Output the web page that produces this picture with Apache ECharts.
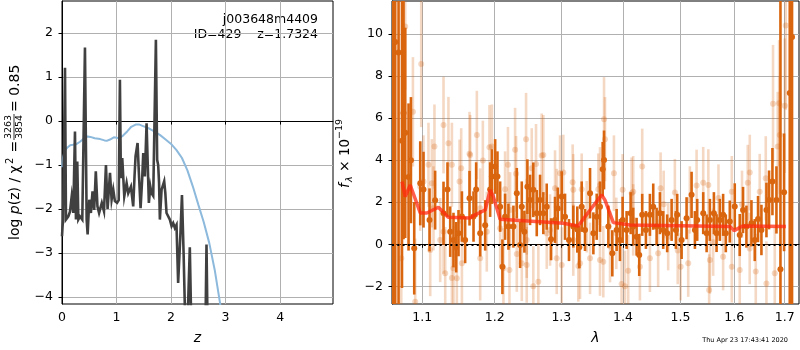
<!DOCTYPE html>
<html>
<head>
<meta charset="utf-8">
<script src="https://cdn.jsdelivr.net/npm/echarts@6.0.0/dist/echarts.min.js"></script>
<style>
  html, body { margin: 0; padding: 0; background: #fff; }
  #chart { width: 800px; height: 350px; }
</style>
</head>
<body>
<div id="chart"></div>
<script>
// ---- left panel: log p(z) ----
const pzZ = [0.00, 0.01, 0.02, 0.055, 0.073, 0.116, 0.146, 0.177, 0.207, 0.238, 0.256, 0.28, 0.30, 0.33, 0.372,
  0.421, 0.452, 0.47, 0.50, 0.53, 0.56, 0.59, 0.62, 0.65, 0.68, 0.73, 0.77, 0.806, 0.836, 0.88, 0.91, 0.94, 0.97,
  1.01, 1.04, 1.062, 1.08, 1.105, 1.142, 1.185, 1.215, 1.24, 1.264, 1.306, 1.33, 1.349, 1.386, 1.41, 1.441, 1.47,
  1.49, 1.52, 1.551, 1.57, 1.593, 1.62, 1.642, 1.673, 1.722, 1.745, 1.764, 1.78, 1.795, 1.826, 1.874, 1.895, 1.917,
  1.978, 2.01, 2.039, 2.07, 2.10, 2.13, 2.17, 2.20, 2.23, 2.26, 2.30, 2.344, 2.37, 2.45, 2.55, 2.63, 2.65, 2.67,
  2.75, 2.9, 3.1];
const pzLog = [-2.62, -2.4, -2.24, 1.21, -2.24, -2.17, -2.06, -1.72, -2.09, -0.24, -2.24, -0.92, -2.24, -2.17, -2.24,
  1.67, -2.24, -2.58, -1.79, -2.09, -1.6, -2.02, -1.14, -1.94, -2.09, -1.86, -2.05, -1.0, -2.0, -1.18, -1.79, -1.56, -1.82,
  -1.86, -1.8, 0.94, -1.3, -0.84, -1.71, -1.41, -1.64, -1.6, -1.49, -1.94, -1.26, -0.8, -0.5, -1.18, -1.98, -1.33,
  -0.73, -1.26, -0.05, -0.88, -1.86, -1.49, -1.64, -1.7, 1.85, -0.88, -1.0, -1.4, -2.24, -1.56, -1.37, -1.64, -2.09,
  -2.24, -2.39, -2.32, -2.43, -2.36, -3.68, -2.62, -1.68, -3.0, -4.6, -4.7, -2.87, -4.6, -4.9, -5.2, -4.8, -2.81, -4.7,
  -5.5, -6.5, -7.5];

const fitZ = [0.00, 0.02, 0.05, 0.10, 0.15, 0.20, 0.27, 0.33, 0.40, 0.47, 0.52, 0.60, 0.70, 0.78, 0.82, 0.88, 0.95,
  1.05, 1.12, 1.20, 1.27, 1.35, 1.42, 1.50, 1.60, 1.70, 1.80, 1.90, 2.00, 2.10, 2.20, 2.30, 2.40, 2.50, 2.60, 2.70,
  2.80, 2.90, 3.00, 3.10];
const fitLog = [-1.05, -0.82, -0.68, -0.6, -0.55, -0.54, -0.52, -0.47, -0.4, -0.35, -0.36, -0.39, -0.41, -0.44, -0.45,
  -0.42, -0.37, -0.39, -0.33, -0.23, -0.13, -0.08, -0.08, -0.12, -0.17, -0.24, -0.32, -0.42, -0.52, -0.66, -0.84,
  -1.12, -1.49, -1.9, -2.3, -2.77, -3.38, -4.15, -5.0, -5.9];

const zTicks = [0, 1, 2, 3, 4];
const pzTicks = [-4, -3, -2, -1, 0, 1, 2];

// ---- right panel: spectrum ----
const darkWave = [1.0624, 1.0649, 1.0692, 1.0736, 1.0756, 1.0778, 1.0821, 1.0852, 1.0895, 1.0974, 1.1017, 1.1097, 1.1172,
  1.1285, 1.1339, 1.1376, 1.1421, 1.1458, 1.1490, 1.1537, 1.1582, 1.1643, 1.1699, 1.1736, 1.1793, 1.1864, 1.1935, 1.1960,
  1.2007, 1.2040, 1.2079, 1.2112, 1.2151, 1.2200, 1.2273, 1.2323, 1.2372, 1.2397, 1.2436, 1.2481, 1.2521, 1.2570, 1.2622,
  1.2672, 1.2722, 1.2774, 1.2841, 1.2902, 1.2944, 1.3006, 1.3058, 1.3120, 1.3188, 1.3252, 1.3284, 1.3322, 1.3375, 1.3456,
  1.3510, 1.3564, 1.3618, 1.3662, 1.3684, 1.3755, 1.3821, 1.3893, 1.3948, 1.3993, 1.4060, 1.4128, 1.4172, 1.4230, 1.4275,
  1.4326, 1.4390, 1.4459, 1.4517, 1.4576, 1.4634, 1.4692, 1.4762, 1.4841, 1.4917, 1.4941, 1.5020, 1.5110, 1.5201,
  1.5262, 1.5304, 1.5415, 1.5478, 1.5539, 1.5614, 1.5664, 1.5726, 1.5788, 1.5839, 1.5915, 1.6010, 1.6106, 1.6170, 1.6236,
  1.6334, 1.6399, 1.6464, 1.6531, 1.6631, 1.6683, 1.6751, 1.6832, 1.6913, 1.6987, 1.7103, 1.7150];
const darkFlux = [14, 9.62, 9.12, 4.92, 6.24, 5.3, 3.2, 4.0, -0.19, 2.9, 2.6, 1.16, 2.1, 1.48, 2.6, 0.6, 0.2, -0.14, 0.53,
  1.32, 0.2, 2.19, 1.32, 2.6, 0.52, 0.9, 2.6, 3.22,
  3.7, 3.22, 1.79, -1.07, 1.31, 0.84, 0.84, 2.43, -0.03, 1.79, 0.6, 2.74, 2.11, 2.59, 1.48, 2.11, 1.48, 1.79, 0.24, 1.16,
  1.7, 2.27, 1.31, 0.2, 0.84, 0.7, -0.14, 1.79, 0.68, 2.43,
  0.52, 1.31, 1.79, 3.57, 4.01, 0.84, -0.43, 0.68, 0.2, 1.16, 0.68, 1.48, 0.84, 0.36, -0.51, 1.4, 0.68, 1.4, 1.79, 0.84,
  1.48, 0.68, 0.52, 1.16, 0.68, 1.4, 0.2, 1.24, 2.35,
  0.68, 1.16, 1.48, 0.52, 1.16, 1.48, 0.53, 1.16, 1.4, 0.52, 1.08, 1.8, 0.44, 1.63, 0.84, 1.0, 0.2, 1.2, 0.68, 1.63, 2.11,
  2.98, 2.11, -1.19, 2.47, 7.19, 9.86];
const darkErr = [20, 15, 15, 7, 6, 5, 3.5, 3, 2.2, 2.0, 1.8, 1.5, 1.4, 1.5, 1.3, 1.2, 1.3, 1.2, 1.1, 1.2, 1.1, 1.3, 1.2,
  1.3, 1.1, 1.2, 1.3, 1.3,
  1.3, 1.2, 1.2, 1.3, 1.1, 1.1, 1.0, 1.2, 1.1, 1.2, 1.0, 1.3, 1.2, 1.3, 1.1, 1.2, 1.0, 1.1, 1.0, 1.1, 1.0, 1.2, 1.1, 1.0,
  1.0, 1.1, 1.0, 1.2, 1.0, 1.2,
  1.0, 1.1, 1.2, 1.3, 1.4, 1.0, 1.1, 1.0, 1.0, 1.1, 0.9, 1.0, 0.9, 0.9, 1.0, 1.0, 0.9, 1.0, 1.1, 0.9, 1.0, 0.9, 0.9, 1.0,
  0.9, 1.0, 0.9, 1.0, 1.1,
  0.9, 1.0, 1.0, 0.9, 1.0, 1.0, 0.9, 1.0, 1.0, 0.9, 1.0, 1.1, 1.0, 1.1, 1.0, 1.1, 1.0, 1.1, 1.2, 1.3, 1.4, 1.6, 1.6, 14,
  2.8, 15, 15];

const lightWave = [1.0778, 1.0987, 1.0878, 1.1285, 1.1352, 1.1163, 1.1083, 1.1399, 1.1527, 1.1643, 1.1746, 1.1831, 1.1925,
  1.0727, 1.0908, 1.1308, 1.1399, 1.1467, 1.1537, 1.1106, 1.1240, 1.1793, 1.1887, 1.1017, 1.1128, 1.1504,
  1.1960, 1.2298, 1.2461, 1.2697, 1.2313, 1.2546, 1.2611, 1.3178, 1.2980, 1.2151, 1.2902, 1.2215, 1.2570, 1.2646, 1.2323,
  1.2397, 1.2928, 1.3006, 1.3268, 1.3456, 1.2471, 1.2774, 1.3188,
  1.3684, 1.3700, 1.3848, 1.4326, 1.3590, 1.3993, 1.4145, 1.4646, 1.4899, 1.5170, 1.3618, 1.3976, 1.4032, 1.4087, 1.4287,
  1.4459, 1.4603, 1.5002, 1.5140, 1.3783, 1.4780,
  1.7021, 1.6886, 1.7001, 1.6899, 1.6858, 1.6301, 1.6262, 1.6617, 1.6763, 1.5415, 1.5510, 1.5953, 1.6497, 1.5539, 1.5788,
  1.5953, 1.6106, 1.6419, 1.6631, 1.6798, 1.5525,
  1.1652, 1.2193, 1.2722, 1.3031, 1.3188, 1.3322, 1.3618, 1.4172, 1.0974, 1.1150, 1.1793, 1.2224, 1.2471, 1.2928, 1.3402,
  1.4172, 1.1285, 1.2079, 1.2825, 1.3887, 1.1421, 1.2127, 1.2471, 1.3295, 1.3672,
  1.5293, 1.5700, 1.6150, 1.4700, 1.4950, 1.5600, 1.6300];
const lightFlux = [10.36, 8.57, 6.3, 5.67, 4.81, 4.65, 3.78, 3.78, 3.62, 4.3, 5.2, 3.98, 4.62,
  -0.66, -2.73, -1.38, -1.6, -1.62, -0.9, -0.27, 0.2, -0.67, 0.6, 2.98, 2.9, 2.98,
  4.65, 4.49, 5.0, 4.22, 3.35, 3.62, 3.82, 2.95, 3.38, 2.62, 2.67, -1.22, -1.99, -1.78, -0.46,
  -0.9, -0.67, -0.99, -1.03, -0.67, 0.2, 0.53, 0.2,
  5.95, 5.0, 3.38, 3.7, 2.62, 2.59, 2.43, 2.67, 2.46, 2.11, -0.75, -1.89, -2.0, -1.26, -1.07,
  -0.67, -0.43, -1.07, -0.9, -0.11, 0.36,
  10.4, 6.71, 6.59, 5.2, 4.65, 3.41, 2.93, 3.14, 6.68, 2.93, 2.82, 2.5, 2.5, -0.75, -0.59,
  -1.07, -1.22, -1.3, -1.86, -1.38, -2.18,
  4.25, 3.78, 4.25, 3.41, 2.59, 2.62, 2.82, 2.5, 2.74, 1.71, 1.71, 1.63, 1.31, 1.79, 1.31,
  1.16, 0.6, 0.76, 0.68, 0.52, -1.14, -1.14, -0.98, -0.9, -0.83,
  2.8, 2.2, 1.9, 1.9, -0.3, 0.1, -0.2];
const lightErr = [3.0, 3.0, 2.6, 2.3, 2.2, 2.0, 2.0, 2.0, 1.9, 2.0, 2.1, 1.9, 2.0,
  3.5, 3.0, 2.2, 2.0, 2.0, 2.0, 2.2, 2.0, 2.0, 1.9, 2.2, 2.1, 2.0,
  2.0, 2.0, 2.2, 2.0, 1.8, 1.9, 1.9, 1.8, 1.8, 1.8, 1.8, 1.9, 1.9, 1.8, 1.8,
  1.8, 1.7, 1.8, 1.7, 1.7, 1.8, 1.7, 1.7,
  2.0, 2.0, 1.8, 1.8, 1.7, 1.7, 1.7, 1.7, 1.6, 1.6, 1.7, 1.8, 1.7, 1.7, 1.6,
  1.6, 1.6, 1.6, 1.6, 1.7, 1.6,
  4.0, 3.0, 3.2, 2.8, 2.6, 1.8, 1.8, 2.0, 2.8, 1.7, 1.7, 1.7, 1.8, 1.6, 1.6,
  1.7, 1.7, 1.8, 2.0, 2.2, 1.7,
  1.9, 1.8, 1.9, 1.8, 1.7, 1.7, 1.8, 1.7, 2.1, 2.0, 1.9, 1.8, 1.8, 1.8, 1.7,
  1.7, 2.0, 1.8, 1.7, 1.7, 2.0, 1.9, 1.8, 1.7, 1.7,
  1.7, 1.6, 1.6, 1.6, 1.6, 1.6, 1.7];

const modelWave = [1.0736, 1.0778, 1.0843, 1.0974, 1.1062, 1.1215, 1.1349, 1.1652, 1.1722, 1.1864, 1.1935, 1.1978, 1.2079,
  1.3031, 1.3265, 1.3423, 1.3646, 1.3700, 1.3838, 1.4116, 1.5920, 1.5996, 1.6161, 1.7024];
const modelFlux = [2.98, 2.27, 2.82, 1.49, 1.49, 1.76, 1.29, 1.25, 1.40, 1.63, 2.58, 2.3, 1.19,
  1.0, 0.87, 1.5, 2.35, 2.1, 1.03, 0.92, 0.84, 0.65, 0.87, 0.84];

const lamTicks = [1.1, 1.2, 1.3, 1.4, 1.5, 1.6, 1.7];
const fluxTicks = [-2, 0, 2, 4, 6, 8, 10];
const lamMin = 1.0608, lamMax = 1.7294;

const FONT = 'DejaVu Sans';
const DARK = '#d9650f';

function minus(v) {
  return v < 0 ? '\u2212' + Math.abs(v) : String(v);
}

function errorBars(wave, flux, err, color, alpha, z) {
  return {
    type: 'custom',
    xAxisIndex: 1,
    yAxisIndex: 1,
    clip: true,
    z: z,
    silent: true,
    data: wave.map((w, i) => [Math.log(w), flux[i], err[i]]),
    renderItem(params, api) {
      const x = api.value(0), y = api.value(1), e = api.value(2);
      const lo = api.coord([x, y - e]);
      const hi = api.coord([x, y + e]);
      const c = api.coord([x, y]);
      return {
        type: 'group',
        children: [
          { type: 'line', shape: { x1: lo[0], y1: lo[1], x2: hi[0], y2: hi[1] },
            style: { stroke: color, lineWidth: 2.6, opacity: alpha } },
          { type: 'circle', shape: { cx: c[0], cy: c[1], r: 3 },
            style: { fill: color, opacity: alpha } }
        ]
      };
    }
  };
}

function axisCommon(ticks, fmt, margin) {
  return {
    axisLine: { show: true, lineStyle: { color: '#000', width: 1 } },
    axisTick: { show: true, inside: false, length: 3.5, lineStyle: { color: '#000' }, customValues: ticks },
    axisLabel: { customValues: ticks, formatter: fmt, color: '#000', fontSize: 12.5, fontFamily: FONT, margin: margin },
    splitLine: { show: true, lineStyle: { color: '#b0b0b0', width: 1 } }
  };
}

const chart = echarts.init(document.getElementById('chart'), null, { renderer: 'canvas' });

const option = {
  animation: false,
  backgroundColor: '#fff',
  grid: [
    { left: 62, top: 1, width: 271, height: 303, show: true, borderColor: '#000', borderWidth: 1,
      backgroundColor: 'transparent', outerBoundsMode: 'none' },
    { left: 392, top: 1, width: 407, height: 303, show: true, borderColor: '#000', borderWidth: 1,
      backgroundColor: 'transparent', outerBoundsMode: 'none' }
  ],
  xAxis: [
    Object.assign({
      gridIndex: 0, type: 'value', min: 0, max: 4.97,
      name: 'z', nameLocation: 'middle', nameGap: 27,
      nameTextStyle: { fontStyle: 'italic', fontSize: 14, fontFamily: FONT, color: '#000' }
    }, axisCommon(zTicks, v => String(v), 7)),
    Object.assign({
      gridIndex: 1, type: 'value', min: Math.log(lamMin), max: Math.log(lamMax),
      name: 'λ', nameLocation: 'middle', nameGap: 27,
      nameTextStyle: { fontStyle: 'italic', fontSize: 14, fontFamily: FONT, color: '#000' }
    }, axisCommon(lamTicks.map(v => Math.log(v)), v => Math.exp(v).toFixed(1), 7))
  ],
  yAxis: [
    Object.assign({ gridIndex: 0, type: 'value', min: -4.16, max: 2.73 },
      axisCommon(pzTicks, minus, 9)),
    Object.assign({ gridIndex: 1, type: 'value', min: -2.84, max: 11.57 },
      axisCommon(fluxTicks, minus, 9))
  ],
  series: [
    {
      type: 'line', xAxisIndex: 0, yAxisIndex: 0, showSymbol: false, clip: true, z: 2,
      data: fitZ.map((z, i) => [z, fitLog[i]]),
      lineStyle: { color: '#8cb9dc', width: 2 }
    },
    {
      type: 'line', xAxisIndex: 0, yAxisIndex: 0, showSymbol: false, clip: true, z: 3,
      data: pzZ.map((z, i) => [z, pzLog[i]]),
      lineStyle: { color: '#404040', width: 2.6, join: 'miter' }
    },
    errorBars(lightWave, lightFlux, lightErr, DARK, 0.25, 2),
    errorBars(darkWave, darkFlux, darkErr, DARK, 1, 3),
    {
      type: 'line', xAxisIndex: 1, yAxisIndex: 1, showSymbol: false, clip: true, z: 4,
      data: modelWave.map((w, i) => [Math.log(w), modelFlux[i]]),
      lineStyle: { color: '#ff2a10', width: 3.5, opacity: 0.75 },
      markLine: {
        silent: true, symbol: 'none', label: { show: false },
        lineStyle: { color: '#000', type: [2, 3.3], width: 2 },
        data: [{ yAxis: 0 }]
      }
    }
  ],
  graphic: [
    { type: 'text', x: 318, y: 20, style: { text: 'j003648m4409', fill: '#000', fontSize: 12.5, fontFamily: FONT,
      textAlign: 'right', textVerticalAlign: 'middle' } },
    { type: 'text', x: 318, y: 35, style: { text: 'ID=429    z=1.7324', fill: '#000', fontSize: 12.5, fontFamily: FONT,
      textAlign: 'right', textVerticalAlign: 'middle' } },
    // left y label
    { type: 'text', x: 15, y: 240, rotation: Math.PI / 2, style: {
      text: 'log {i|p}(z) / χ', fill: '#000', fontSize: 14, fontFamily: FONT, textAlign: 'left', textVerticalAlign: 'middle',
      rich: { i: { fontStyle: 'italic', fontSize: 14, fontFamily: FONT } } } },
    { type: 'text', x: 10, y: 164, rotation: Math.PI / 2, style: { text: '2', fill: '#000', fontSize: 10, fontFamily: FONT,
      textAlign: 'left', textVerticalAlign: 'middle' } },
    { type: 'text', x: 15, y: 157, rotation: Math.PI / 2, style: { text: ' =', fill: '#000', fontSize: 14, fontFamily: FONT,
      textAlign: 'left', textVerticalAlign: 'middle' } },
    { type: 'text', x: 8.5, y: 127, rotation: Math.PI / 2, style: { text: '3263', fill: '#000', fontSize: 9.5, fontFamily: FONT,
      textAlign: 'center', textVerticalAlign: 'middle' } },
    { type: 'text', x: 19.5, y: 127, rotation: Math.PI / 2, style: { text: '3854', fill: '#000', fontSize: 9.5, fontFamily: FONT,
      textAlign: 'center', textVerticalAlign: 'middle' } },
    { type: 'line', shape: { x1: 14, y1: 114, x2: 14, y2: 140 }, style: { stroke: '#000', lineWidth: 0.8 } },
    { type: 'text', x: 15, y: 112, rotation: Math.PI / 2, style: { text: '= 0.85', fill: '#000', fontSize: 14, fontFamily: FONT,
      textAlign: 'left', textVerticalAlign: 'middle' } },
    // right y label
    { type: 'text', x: 345, y: 188, rotation: Math.PI / 2, style: { text: 'f', fill: '#000', fontSize: 13.5, fontStyle: 'italic',
      fontFamily: FONT, textAlign: 'left', textVerticalAlign: 'middle' } },
    { type: 'text', x: 349.5, y: 182, rotation: Math.PI / 2, style: { text: 'λ', fill: '#000', fontSize: 9.5, fontStyle: 'italic',
      fontFamily: FONT, textAlign: 'left', textVerticalAlign: 'middle' } },
    { type: 'text', x: 345, y: 176, rotation: Math.PI / 2, style: { text: ' × 10', fill: '#000', fontSize: 13.5,
      fontFamily: FONT, textAlign: 'left', textVerticalAlign: 'middle' } },
    { type: 'text', x: 340, y: 139, rotation: Math.PI / 2, style: { text: '\u221219', fill: '#000', fontSize: 9.5,
      fontFamily: FONT, textAlign: 'left', textVerticalAlign: 'middle' } },
    // timestamp
    { type: 'text', x: 788, y: 340, style: { text: 'Thu Apr 23 17:43:41 2020', fill: '#000', fontSize: 6.5,
      fontFamily: FONT, textAlign: 'right', textVerticalAlign: 'middle' } }
  ]
};

chart.setOption(option);
</script>
</body>
</html>
